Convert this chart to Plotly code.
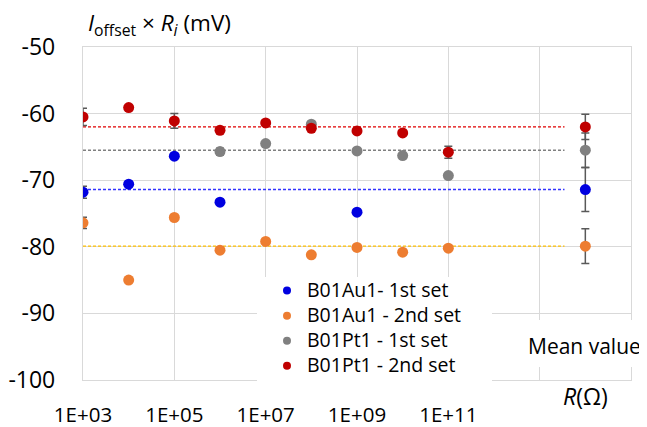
import plotly.graph_objects as go

# ---- data ----
r_values = [1e3, 1e4, 1e5, 1e6, 1e7, 1e8, 1e9, 1e10, 1e11]

au1_set1_x = [1e3, 1e4, 1e5, 1e6, 1e9]
au1_set1_y = [-71.8, -70.6, -66.4, -73.3, -74.8]
au1_set1_err = [0.9, None, None, None, None]

au1_set2_x = r_values
au1_set2_y = [-76.4, -85.0, -75.6, -80.5, -79.2, -81.2, -80.1, -80.8, -80.2]
au1_set2_err = [0.85, None, None, None, None, None, None, None, None]

pt1_set1_x = [1e6, 1e7, 1e8, 1e9, 1e10, 1e11]
pt1_set1_y = [-65.7, -64.5, -61.6, -65.6, -66.3, -69.3]
pt1_set1_err = [0.5, None, None, None, None, None]

pt1_set2_x = r_values
pt1_set2_y = [-60.5, -59.1, -61.1, -62.5, -61.4, -62.2, -62.6, -62.9, -65.8]
pt1_set2_err = [1.3, None, 1.1, None, None, None, None, None, 0.9]

series_names = ["B01Au1- 1st set", "B01Au1 - 2nd set", "B01Pt1 - 1st set", "B01Pt1 - 2nd set"]
series_colors = ["#0000E0", "#ED7D31", "#808080", "#C00000"]
line_colors = ["#3333FF", "#FFC000", "#808080", "#E00000"]
mean_x = 1e14
mean_values = [-71.4, -79.9, -65.5, -62.0]
mean_std = [3.3, 2.6, 2.6, 1.9]
mean_line_x = [1e3, 3.5e13]

x_tickvals = [1e3, 1e5, 1e7, 1e9, 1e11, 1e13, 1e15]
x_ticktext = ["1E+03", "1E+05", "1E+07", "1E+09", "1E+11", "", ""]
y_tickvals = [-100, -90, -80, -70, -60, -50]
y_ticktext = ["-100", "-90", "-80", "-70", "-60", "-50"]

FONT = "Open Sans"
OFF = 8  # page body margin
L, R, T, B = 83 - OFF, 16, 47 - OFF, 47
W, H = 647 - OFF, 427 - OFF
PW, PH = W - L - R, H - T - B

def px(xp):  # window pixel -> paper
    return (xp - OFF - L) / PW

def py(yp):
    return (H - B - (yp - OFF)) / PH

fig = go.Figure()

# dashed mean lines
for mv, lc in zip(mean_values, line_colors):
    fig.add_trace(go.Scatter(x=mean_line_x, y=[mv, mv], mode="lines",
                             line=dict(color=lc, width=1.3, dash="3px,2px"),
                             showlegend=False, hoverinfo="skip"))

data = [
    (au1_set1_x, au1_set1_y, au1_set1_err),
    (au1_set2_x, au1_set2_y, au1_set2_err),
    (pt1_set1_x, pt1_set1_y, pt1_set1_err),
    (pt1_set2_x, pt1_set2_y, pt1_set2_err),
]
for i, (xs, ys, es) in enumerate(data):
    fig.add_trace(go.Scatter(
        x=list(xs) + [mean_x], y=list(ys) + [mean_values[i]], mode="markers",
        name=series_names[i], showlegend=False,
        marker=dict(color=series_colors[i], size=11),
        error_y=dict(type="data", array=list(es) + [mean_std[i]], visible=True,
                     color="#595959", thickness=1.5, width=4),
    ))

# legend-only entries (smaller symbols, as in the original)
for i in range(4):
    fig.add_trace(go.Scatter(
        x=[None], y=[None], mode="markers",
        name='<span style="font-size:19.5px">' + series_names[i] + '</span>',
        marker=dict(color=series_colors[i], size=8),
    ))

# white cover for legend and "Mean value" label
fig.add_shape(type="rect", xref="paper", yref="paper",
              x0=px(257), x1=px(492), y0=py(387), y1=py(277),
              fillcolor="white", line=dict(width=0), layer="above")
fig.add_shape(type="rect", xref="paper", yref="paper",
              x0=px(500), x1=px(647), y0=py(367), y1=py(320),
              fillcolor="white", line=dict(width=0), layer="above")

fig.add_annotation(text="Mean value", xref="paper", yref="paper",
                   x=px(584), y=py(346), xanchor="center", yanchor="middle",
                   showarrow=False,
                   font=dict(family=FONT, size=21, color="#000000"))
fig.add_annotation(text="<i>R</i>(Ω)", xref="x", yref="paper",
                   x=14, y=0, yshift=-34, xanchor="center", showarrow=False,
                   font=dict(family=FONT, size=23, color="#000000"))
fig.add_annotation(text="<i>I</i><sub>offset</sub> × <i>R<sub>i</sub></i> (mV)",
                   xref="paper", yref="paper", x=px(86), y=py(24),
                   xanchor="left", yanchor="middle", showarrow=False,
                   font=dict(family=FONT, size=22.5, color="#000000"))

grid = "#D9D9D9"
fig.update_xaxes(type="log", range=[3, 15], tickvals=x_tickvals, ticktext=x_ticktext,
                 showgrid=True, gridcolor=grid, gridwidth=1.3,
                 showline=True, mirror=True, linecolor=grid, linewidth=1.3,
                 ticks="", ticklabelstandoff=16, zeroline=False, automargin=False,
                 tickfont=dict(family=FONT, size=20.5, color="#000000"))
fig.update_yaxes(range=[-100, -50], tickvals=y_tickvals, ticktext=y_ticktext,
                 showgrid=True, gridcolor=grid, gridwidth=1.3,
                 showline=True, mirror=True, linecolor=grid, linewidth=1.3,
                 ticks="", ticklabelstandoff=22, zeroline=False, automargin=False,
                 tickfont=dict(family=FONT, size=23, color="#000000"))

fig.update_layout(
    width=W, height=H,
    margin=dict(l=L, r=R, t=T, b=B),
    paper_bgcolor="white", plot_bgcolor="white",
    font=dict(family=FONT, color="#000000"),
    showlegend=True,
    legend=dict(x=px(267), y=py(273), xanchor="left", yanchor="top",
                bgcolor="rgba(0,0,0,0)", borderwidth=0,
                font=dict(family=FONT, size=17, color="#000000"),
                itemwidth=30),
)

fig.write_html("out.html")
